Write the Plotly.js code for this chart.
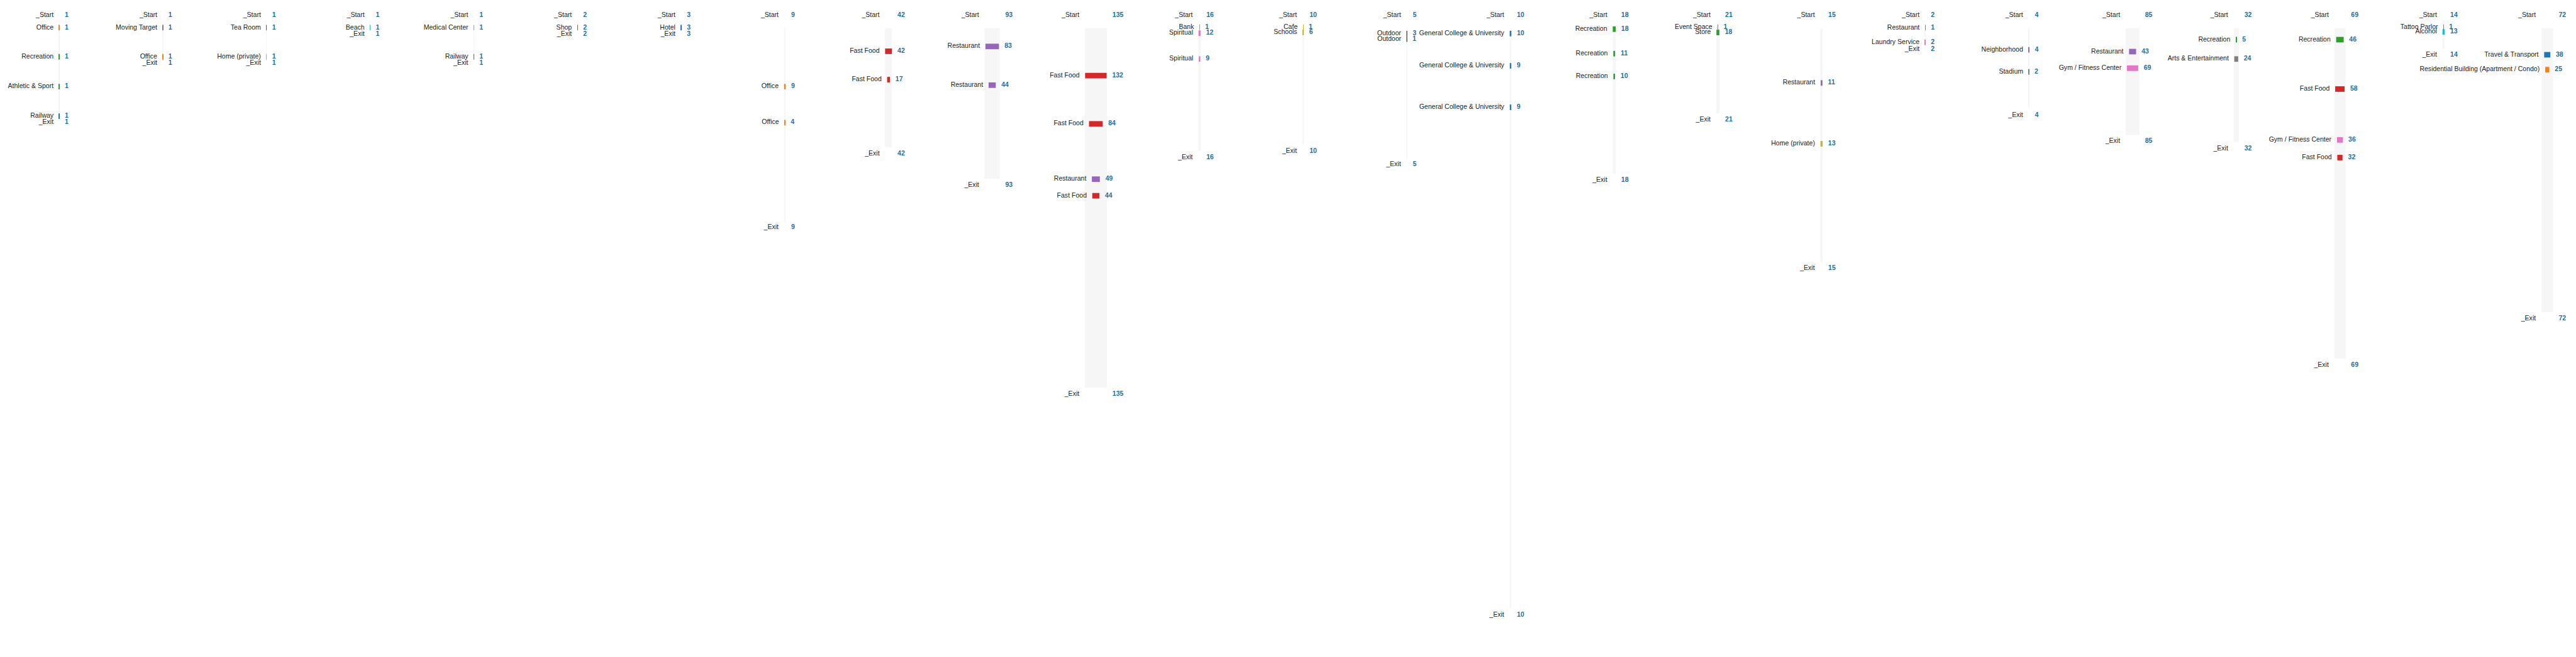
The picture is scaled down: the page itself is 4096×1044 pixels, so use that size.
<!DOCTYPE html>
<html><head><meta charset="utf-8">
<script src="https://cdn.plot.ly/plotly-3.0.1.min.js"></script>
<style>html,body{margin:0;padding:0;background:#fff;overflow:hidden}#chart{width:4096px;height:1044px}</style>
</head><body><div id="chart"></div>
<script>
// ---- per-column (one journey each) totals and end position on the vertical (sequence) scale
const startCount = [1,1,1,1,1,2,3,9,42,93,135,16,10,5,10,18,21,15,2,4,85,32,69,14,72];
const exitCount  = [1,1,1,1,1,2,3,9,42,93,135,16,10,5,10,18,21,15,2,4,85,32,69,14,72];
const endPos     = [210,103,103,50,103,50,50,400,266.7,323.3,701,273.3,261.6,285.3,1100.6,314,205,473.3,77.3,196.7,244,257,648.3,88,564];

// ---- nodes: column index, category label, visit count, position on the sequence scale
const nodeCol = [0,0,0,0, 1,1, 2,2, 3, 4,4, 5, 6, 7,7, 8,8, 9,9, 10,10,10,10, 11,11,11, 12,12, 13,13, 14,14,14, 15,15,15, 16,16, 17,17, 18,18, 19,19, 20,20, 21,21, 22,22,22,22, 23,23, 24,24];
const nodeLabel = [
  "Office","Recreation","Athletic & Sport","Railway",
  "Moving Target","Office",
  "Tea Room","Home (private)",
  "Beach",
  "Medical Center","Railway",
  "Shop",
  "Hotel",
  "Office","Office",
  "Fast Food","Fast Food",
  "Restaurant","Restaurant",
  "Fast Food","Fast Food","Restaurant","Fast Food",
  "Bank","Spiritual","Spiritual",
  "Cafe","Schools",
  "Outdoor","Outdoor",
  "General College & University","General College & University","General College & University",
  "Recreation","Recreation","Recreation",
  "Event Space","Store",
  "Restaurant","Home (private)",
  "Restaurant","Laundry Service",
  "Neighborhood","Stadium",
  "Restaurant","Gym / Fitness Center",
  "Recreation","Arts & Entertainment",
  "Recreation","Fast Food","Gym / Fitness Center","Fast Food",
  "Tattoo Parlor","Alcohol",
  "Travel & Transport","Residential Building (Apartment / Condo)"
];
const nodeValue = [1,1,1,1, 1,1, 1,1, 1, 1,1, 2, 3, 9,4, 42,17, 83,44, 132,84,49,44, 1,12,9, 1,6, 3,1, 10,9,9, 18,11,10, 1,18, 11,13, 1,2, 4,2, 43,69, 5,24, 46,58,36,32, 1,13, 38,25];
const nodePos = [50,102.7,156.7,210, 50,102.7, 50,102.7, 50, 50,102.7, 50, 50, 156.7,221.7, 92.7,144, 84,154, 136.7,224,324,354, 49.3,60,106.7, 49.3,58.7, 60.7,70.7, 60.7,119,194, 52.7,97,138.3, 49.3,58.7, 150,260, 50,76.7, 90,130, 93.3,123.3, 71.7,106.7, 71.7,161,253,285, 49.3,57.7, 99,126];

// ---- category colours
const categoryColor = {
  "Office":"#ff7f0e","Recreation":"#2ca02c","Athletic & Sport":"#2ca02c","Railway":"#1f77b4",
  "Moving Target":"#7f7f7f","Tea Room":"#d62728","Home (private)":"#bcbd22","Beach":"#17becf",
  "Medical Center":"#e377c2","Shop":"#8c564b","Hotel":"#1f77b4","Fast Food":"#d62728",
  "Restaurant":"#9467bd","Bank":"#e377c2","Spiritual":"#e377c2","Cafe":"#bcbd22","Schools":"#bcbd22",
  "Outdoor":"#7f7f7f","General College & University":"#1f77b4","Event Space":"#7f7f7f","Store":"#2ca02c",
  "Laundry Service":"#e377c2","Neighborhood":"#9467bd","Stadium":"#7f7f7f","Gym / Fitness Center":"#e377c2",
  "Arts & Entertainment":"#7f7f7f","Tattoo Parlor":"#7f7f7f","Alcohol":"#17becf",
  "Travel & Transport":"#1f77b4","Residential Building (Apartment / Condo)":"#ff7f0e"
};

// ---- geometry (reference-pixel units on the sequence axis, column units on x)
const PX = 1/187.5;           // one reference pixel in column units
const UNIT_W = 0.295 * PX;    // bar width per visit
const GAP = 10 * PX;
const BAR_H = 10;
const START_ROW = 27.7;
const EXIT_OFFSET = 11.7;
const TRACK_TOP = 51;

const colIdx = startCount.map((_, i) => i);
const trackTop = colIdx.map(i => {
  let m = TRACK_TOP;
  nodePos.forEach((p, k) => { if (nodeCol[k] === i) m = Math.min(m, p - BAR_H/2); });
  return m;
});

const FONT = "Arial, 'Liberation Sans', Helvetica, sans-serif";
const fs = 12 * 0.879;

// labels (left) and counts (right)
const lx = [], ly = [], lt = [], vx = [], vy = [], vt = [];
colIdx.forEach(i => {
  const h = startCount[i] * UNIT_W / 2;
  lx.push(i - h - GAP); ly.push(START_ROW); lt.push("_Start");
  vx.push(i + h + GAP); vy.push(START_ROW); vt.push(String(startCount[i]));
  lx.push(i - h - GAP); ly.push(endPos[i] + EXIT_OFFSET); lt.push("_Exit");
  vx.push(i + h + GAP); vy.push(endPos[i] + EXIT_OFFSET); vt.push(String(exitCount[i]));
});
nodeLabel.forEach((lab, k) => {
  const h = nodeValue[k] * UNIT_W / 2;
  lx.push(nodeCol[k] - h - GAP); ly.push(nodePos[k]); lt.push(lab);
  vx.push(nodeCol[k] + h + GAP); vy.push(nodePos[k]); vt.push(String(nodeValue[k]));
});

const traces = [
  { type:'bar', x: colIdx, base: trackTop, y: colIdx.map(i => endPos[i] - trackTop[i]),
    width: startCount.map(v => v * UNIT_W), marker:{color:'#f6f6f6'}, hoverinfo:'skip', showlegend:false },
  { type:'bar', x: nodeCol, base: nodePos.map(p => p - BAR_H/2), y: nodePos.map(() => BAR_H),
    width: nodeValue.map(v => v * UNIT_W), marker:{color: nodeLabel.map(l => categoryColor[l])},
    hoverinfo:'skip', showlegend:false },
  { type:'scatter', mode:'text', x: lx, y: ly, text: lt, textposition:'middle left',
    textfont:{family:FONT, size:fs, color:'#222'}, cliponaxis:false, hoverinfo:'skip', showlegend:false },
  { type:'scatter', mode:'text', x: vx, y: vy, text: vt, textposition:'middle right',
    textfont:{family:FONT, size:fs, color:'#1f6fa3', weight:'bold'}, cliponaxis:false, hoverinfo:'skip', showlegend:false }
];

const layout = {
  width: 4096, height: 1044,
  margin:{l:0, r:0, t:0, b:0, pad:0},
  paper_bgcolor:'#fff', plot_bgcolor:'#fff',
  barmode:'overlay', showlegend:false, hovermode:false,
  xaxis:{range:[-107*PX, (4659-107)*PX], visible:false, fixedrange:true},
  yaxis:{range:[1188, 0], visible:false, fixedrange:true}
};
Plotly.newPlot('chart', traces, layout, {displayModeBar:false, staticPlot:false});
</script>
</body></html>
